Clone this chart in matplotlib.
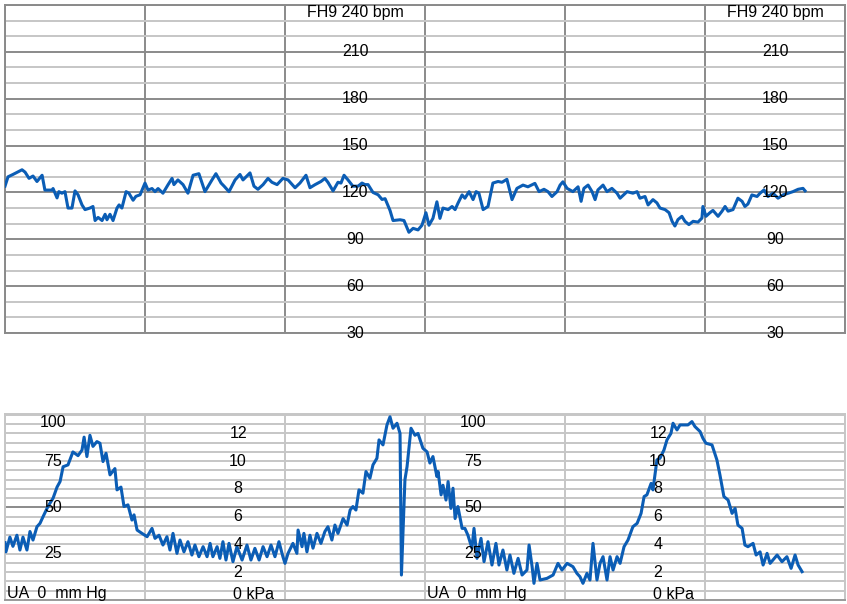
import numpy as np
import matplotlib.pyplot as plt

plt.rcParams["font.family"] = ["Liberation Sans", "DejaVu Sans"]

TRACE = "#0b5db5"
MAJOR = "#8a8a8a"
MINOR = "#c6c6c6"
FS = 11.5

# fetal heart rate (bpm) against time (s), one grid column = 60 s
FHR_T = [0.0, 1.3, 3.4, 7.3, 8.6, 10.3, 12.0, 13.7, 15.9, 17.1, 20.1, 20.6, 22.3, 23.1,
         24.4, 25.7, 27.0, 28.7, 30.0, 31.3, 33.0, 34.3, 36.4, 37.7, 38.6, 39.9, 41.6,
         42.9, 43.7, 45.0, 46.3, 48.0, 48.9, 50.1, 51.9, 53.1, 54.9, 56.1, 57.9, 60.0,
         61.3, 63.0, 64.3, 65.6, 67.7, 69.9, 71.6, 72.4, 74.1, 76.3, 78.4, 80.6, 83.1,
         85.7, 88.7, 90.4, 92.6, 93.9, 96.0, 98.6, 100.7, 102.0, 105.0, 106.7, 108.4,
         110.6, 112.7, 114.4, 116.6, 119.1, 121.3, 124.3, 126.4, 129.0, 130.7, 132.9,
         135.4, 137.1, 138.4, 140.6, 142.7, 144.0, 145.3, 147.0, 149.1, 151.3, 153.0,
         154.3, 155.6, 157.7, 159.9, 161.6, 162.9, 165.0, 166.3, 169.3, 171.0, 173.1,
         174.9, 177.0, 178.7, 180.4, 181.7, 183.4, 185.1, 186.4, 187.7, 189.9, 191.6,
         192.9, 194.1, 195.9, 197.1, 198.9, 200.6, 201.9, 203.1, 204.9, 207.0, 209.1,
         211.3, 213.0, 215.1, 217.3, 219.4, 222.0, 224.1, 227.1, 228.9, 231.0, 232.7,
         234.4, 236.6, 237.9, 239.1, 240.9, 243.4, 245.6, 246.9, 248.1, 249.9, 251.6,
         252.9, 254.1, 256.3, 258.0, 260.1, 262.3, 263.6, 266.6, 269.1, 270.9, 272.1,
         274.3, 275.6, 277.7, 279.4, 280.7, 282.9, 284.6, 285.9, 287.1, 288.4, 290.1,
         291.4, 293.1, 294.9, 297.0, 298.7, 299.1, 300.4, 302.1, 303.4, 305.6, 307.3,
         308.6, 309.9, 312.0, 314.1, 315.9, 317.1, 318.4, 320.1, 322.3, 323.6, 325.3,
         327.0, 329.1, 331.3, 333.4, 335.6, 337.7, 339.9, 342.0, 342.9]
FHR_BPM = [124, 130, 131.5, 134.5, 133, 129, 130.5, 127, 131, 121.5, 121.5, 122.5, 116.5,
           120.5, 119.5, 120.5, 110, 110, 121, 118.5, 112, 109, 110, 111, 102, 104, 102,
           106, 102.5, 106, 102, 110, 112, 110, 120.5, 119.5, 115, 117.5, 118.5, 126,
           121.5, 122.5, 120.5, 122.5, 119.5, 125, 129, 125, 128, 125, 119.5, 131, 132,
           120.5, 128, 132, 126, 124, 120.5, 128, 131.5, 128, 132.5, 124, 122,
           125, 129, 126.5, 125, 129, 128, 123, 126, 131, 123, 125,
           127, 129, 126.5, 121, 126.5, 126, 131, 128, 124, 124, 126,
           125, 125, 120, 118.5, 115.5, 116, 108.5, 102, 102.5, 102, 94.5,
           97, 96, 99, 107, 99, 103.4, 114, 103.4, 110, 109, 111,
           109, 113, 118.4, 116.3, 120.5, 115.4, 120.5, 119.5, 109, 111, 126,
           127, 126.5, 128.4, 115.4, 122.6, 124.7, 123.6, 125.8, 120.5, 122, 120.5,
           117.4, 120.5, 124.7, 126.8, 122.6, 120.5, 123.6, 114.3, 122.6, 124.7, 120.5,
           115.4, 121.6, 124.7, 120.5, 122.6, 119.5, 116.3, 120.5, 119.5, 120.5, 116.3,
           117.4, 112, 115.4, 113.3, 110, 109, 107, 101.5, 98.5, 102.6, 104.7,
           101.5, 99.4, 101.5, 101, 103.6, 111, 104.7, 107, 108.5, 104.7, 108,
           111, 108, 109, 116.3, 114.3, 111, 112.6, 118.4, 117.4, 119.5, 121.6,
           117.4, 119.5, 116.3, 118.4, 119.5, 120.5, 122, 122.6, 121]

# uterine activity (mm Hg) against time (s)
UA_T = [0.0, 0.4, 2.1, 3.4, 5.1, 6.4, 7.7, 9.4, 10.7, 12.0, 13.7, 15.0, 16.3, 18.4, 20.6,
        22.3, 23.6, 24.9, 27.0, 29.1, 31.3, 33.0, 33.9, 35.1, 36.4, 37.7, 39.4, 40.7,
        42.0, 43.3, 45.0, 47.1, 48.0, 49.7, 51.0, 52.7, 54.4, 55.3, 56.6, 58.7, 60.9,
        63.0, 64.3, 66.0, 67.7, 69.4, 70.7, 72.0, 73.7, 75.0, 76.7, 78.4, 80.1, 81.4,
        83.1, 84.9, 86.6, 87.9, 89.1, 90.9, 92.1, 93.4, 94.7, 96.0, 97.7, 99.4, 101.6,
        103.7, 105.4, 107.1, 108.9, 110.6, 112.3, 114.0, 115.7, 117.4, 119.1, 120.0,
        121.3, 123.4, 125.1, 125.6, 127.3, 128.1, 129.4, 130.7, 132.0, 133.7, 135.4,
        137.1, 138.4, 140.1, 141.4, 142.7, 144.9, 146.6, 147.9, 149.1, 150.4, 151.7,
        153.4, 154.7, 156.4, 157.7, 159.4, 160.3, 162.0, 163.7, 165.0, 166.3, 168.0,
        169.3, 169.9, 171.4, 172.3, 174.0, 175.7, 177.0, 179.1, 180.9, 182.1, 183.4,
        185.1, 185.6, 186.9, 187.7, 189.0, 189.9, 191.1, 192.0, 192.9, 194.1, 195.9,
        197.1, 198.4, 200.1, 201.0, 202.3, 204.0, 205.3, 207.0, 208.7, 210.4, 211.7,
        213.4, 215.1, 216.4, 218.1, 219.9, 221.6, 223.7, 224.6, 225.9, 226.7, 228.0,
        229.3, 232.3, 234.9, 237.0, 238.7, 240.9, 243.4, 245.1, 246.4, 247.7, 249.4,
        250.7, 252.0, 253.7, 255.0, 256.3, 258.0, 259.3, 260.6, 262.3, 263.6, 265.3,
        267.0, 269.1, 270.9, 272.6, 273.9, 275.1, 276.9, 277.7, 279.4, 280.7, 282.4,
        283.7, 285.4, 286.3, 288.0, 289.3, 291.4, 292.7, 294.4, 295.7, 297.9, 299.1,
        300.4, 303.0, 305.1, 306.4, 308.1, 309.9, 311.6, 312.9, 314.1, 315.9, 317.1,
        318.4, 320.6, 321.9, 323.6, 324.9, 326.6, 327.9, 330.9, 333.0, 335.1, 336.9,
        338.6, 339.9, 341.6]
UA_MMHG = [31, 26, 34, 29, 35, 27, 34, 27, 37, 32.4, 39.6, 41.4, 45, 50.5, 55,
           61, 64, 72, 73, 80, 78, 81, 88, 77.5, 89, 83, 85.6, 84.7,
           74.8, 79.3, 67.6, 71, 59.5, 61, 50.5, 51.4, 43.2, 46, 37.8, 36, 34.2,
           38.7, 33.3, 35, 29.7, 34.2, 27, 36, 25.2, 32.4, 26, 31.5, 24.3, 29.7,
           23.4, 28.8, 23.4, 30.6, 23.4, 28.8, 22.5, 31.5, 21.6, 30.6, 20.7, 28.8, 21.6,
           29.7, 21.6, 27.9, 21.6, 28.8, 23.4, 29.7, 23.4, 31.5, 23.4, 19.8,
           25.2, 30.6, 25.2, 37.8, 28.8, 36, 26, 35, 28, 36, 30.6,
           37, 39.6, 32.4, 40.5, 36, 44, 40.5, 48.6, 50.5, 48.6, 59.5,
           57.7, 69.4, 65.8, 73, 76.6, 86.5, 83.8, 94.6, 99, 92.8, 95.5,
           90, 13.5, 65, 72, 92.8, 89, 90, 82, 80, 74, 77.5,
           66.7, 69.4, 56.8, 62, 54, 64, 49.5, 60.4, 44, 50.5, 38.7,
           38.7, 35, 28, 38.7, 22.5, 33.3, 20.7, 31.5, 18.9, 30.6, 18.9,
           27, 16.2, 24.3, 14.4, 22.5, 13.5, 16.2, 29.7, 18, 9, 19.8,
           10.8, 11.7, 13.5, 19.8, 16.2, 19.8, 18, 14.4, 12.6, 9, 14.4,
           10.8, 30.6, 10.8, 19.8, 23.4, 10.8, 23.4, 16.2, 23.4, 19.8, 28.8,
           32.4, 39.6, 41.4, 46.8, 55.9, 56.8, 63, 59.5, 75.7, 76.6, 81,
           86.5, 90, 95.5, 91.9, 94.6, 94.6, 94.6, 96.4, 93.7, 91, 87.4,
           84.7, 83.8, 75.7, 67.6, 55.9, 54, 46.8, 49.5, 40.5, 38.7, 29.7,
           28.8, 30.6, 24.3, 26, 18.9, 25.2, 19.8, 24.3, 20.7, 23.4, 17.1,
           24.3, 18.9, 15.3]

BPM_LABELS = [210, 180, 150, 120, 90, 60, 30]
MMHG_LABELS = [100, 75, 50, 25]
KPA_LABELS = [12, 10, 8, 6, 4, 2]
LABEL_COLS = [0, 180]   # start of each 3-minute page


def style_grid(ax, ymin, ymax, major, minor, major_color, minor_color, vcolor):
    ax.set_xlim(0, 360)
    ax.set_ylim(ymin, ymax)
    ax.set_xticks(np.arange(0, 361, 60))
    ax.set_yticks(major)
    ax.set_yticks(minor, minor=True)
    ax.tick_params(which="both", length=0, labelbottom=False, labelleft=False)
    ax.grid(True, which="minor", axis="y", color=minor_color, linewidth=1.4, zorder=0)
    ax.grid(True, which="major", axis="y", color=major_color, linewidth=1.4, zorder=0)
    ax.grid(True, which="major", axis="x", color=vcolor, linewidth=1.4, zorder=0)
    ax.set_axisbelow(True)


fig = plt.figure(figsize=(8.47, 6.04), dpi=100)

# fetal heart rate
ax1 = fig.add_axes([5 / 847, 271 / 604, 840 / 847, 328 / 604])
style_grid(ax1, 30, 240, np.arange(30, 241, 30), np.arange(30, 241, 10), MAJOR, MINOR, MAJOR)
for s in ax1.spines.values():
    s.set_color(MAJOR)
    s.set_linewidth(1.4)
ax1.plot(FHR_T, FHR_BPM, color=TRACE, linewidth=2.2, zorder=3)
for start in LABEL_COLS:
    xc = start + 150
    ax1.text(xc, 235, "FH9 240 bpm", ha="center", va="center", fontsize=FS, zorder=5)
    for v in BPM_LABELS:
        ax1.text(xc, v, str(v), ha="center", va="center", fontsize=FS, zorder=5,
                 clip_on=False)

# uterine activity
ax2 = fig.add_axes([5 / 847, 4 / 604, 840 / 847, 186 / 604])
style_grid(ax2, 0, 100.5, [50], np.arange(0, 101, 5), MAJOR, MINOR, MINOR)
for name, s in ax2.spines.items():
    s.set_color(MINOR)
    s.set_linewidth(1.4)
ax2.spines["bottom"].set_color("#9a9a9a")
ax2.plot(UA_T, UA_MMHG, color=TRACE, linewidth=2.2, zorder=3)
for start in LABEL_COLS:
    ax2.text(start + 20.6, 95.7, str(MMHG_LABELS[0]), ha="center", va="center", fontsize=FS)
    for v in MMHG_LABELS[1:]:
        ax2.text(start + 20.6, v, str(v), ha="center", va="center", fontsize=FS, zorder=5)
    ax2.text(start + 1.0, 3.6, "UA  0  mm Hg", ha="left", va="center", fontsize=FS, zorder=5)
    for v in KPA_LABELS:
        ax2.text(start + 99.9, v * 7.5, str(v), ha="center", va="center", fontsize=FS,
                 zorder=5)
    ax2.text(start + 97.8, 3.0, "0 kPa", ha="left", va="center", fontsize=FS, zorder=5)

fig.savefig("out.png", dpi=100)
